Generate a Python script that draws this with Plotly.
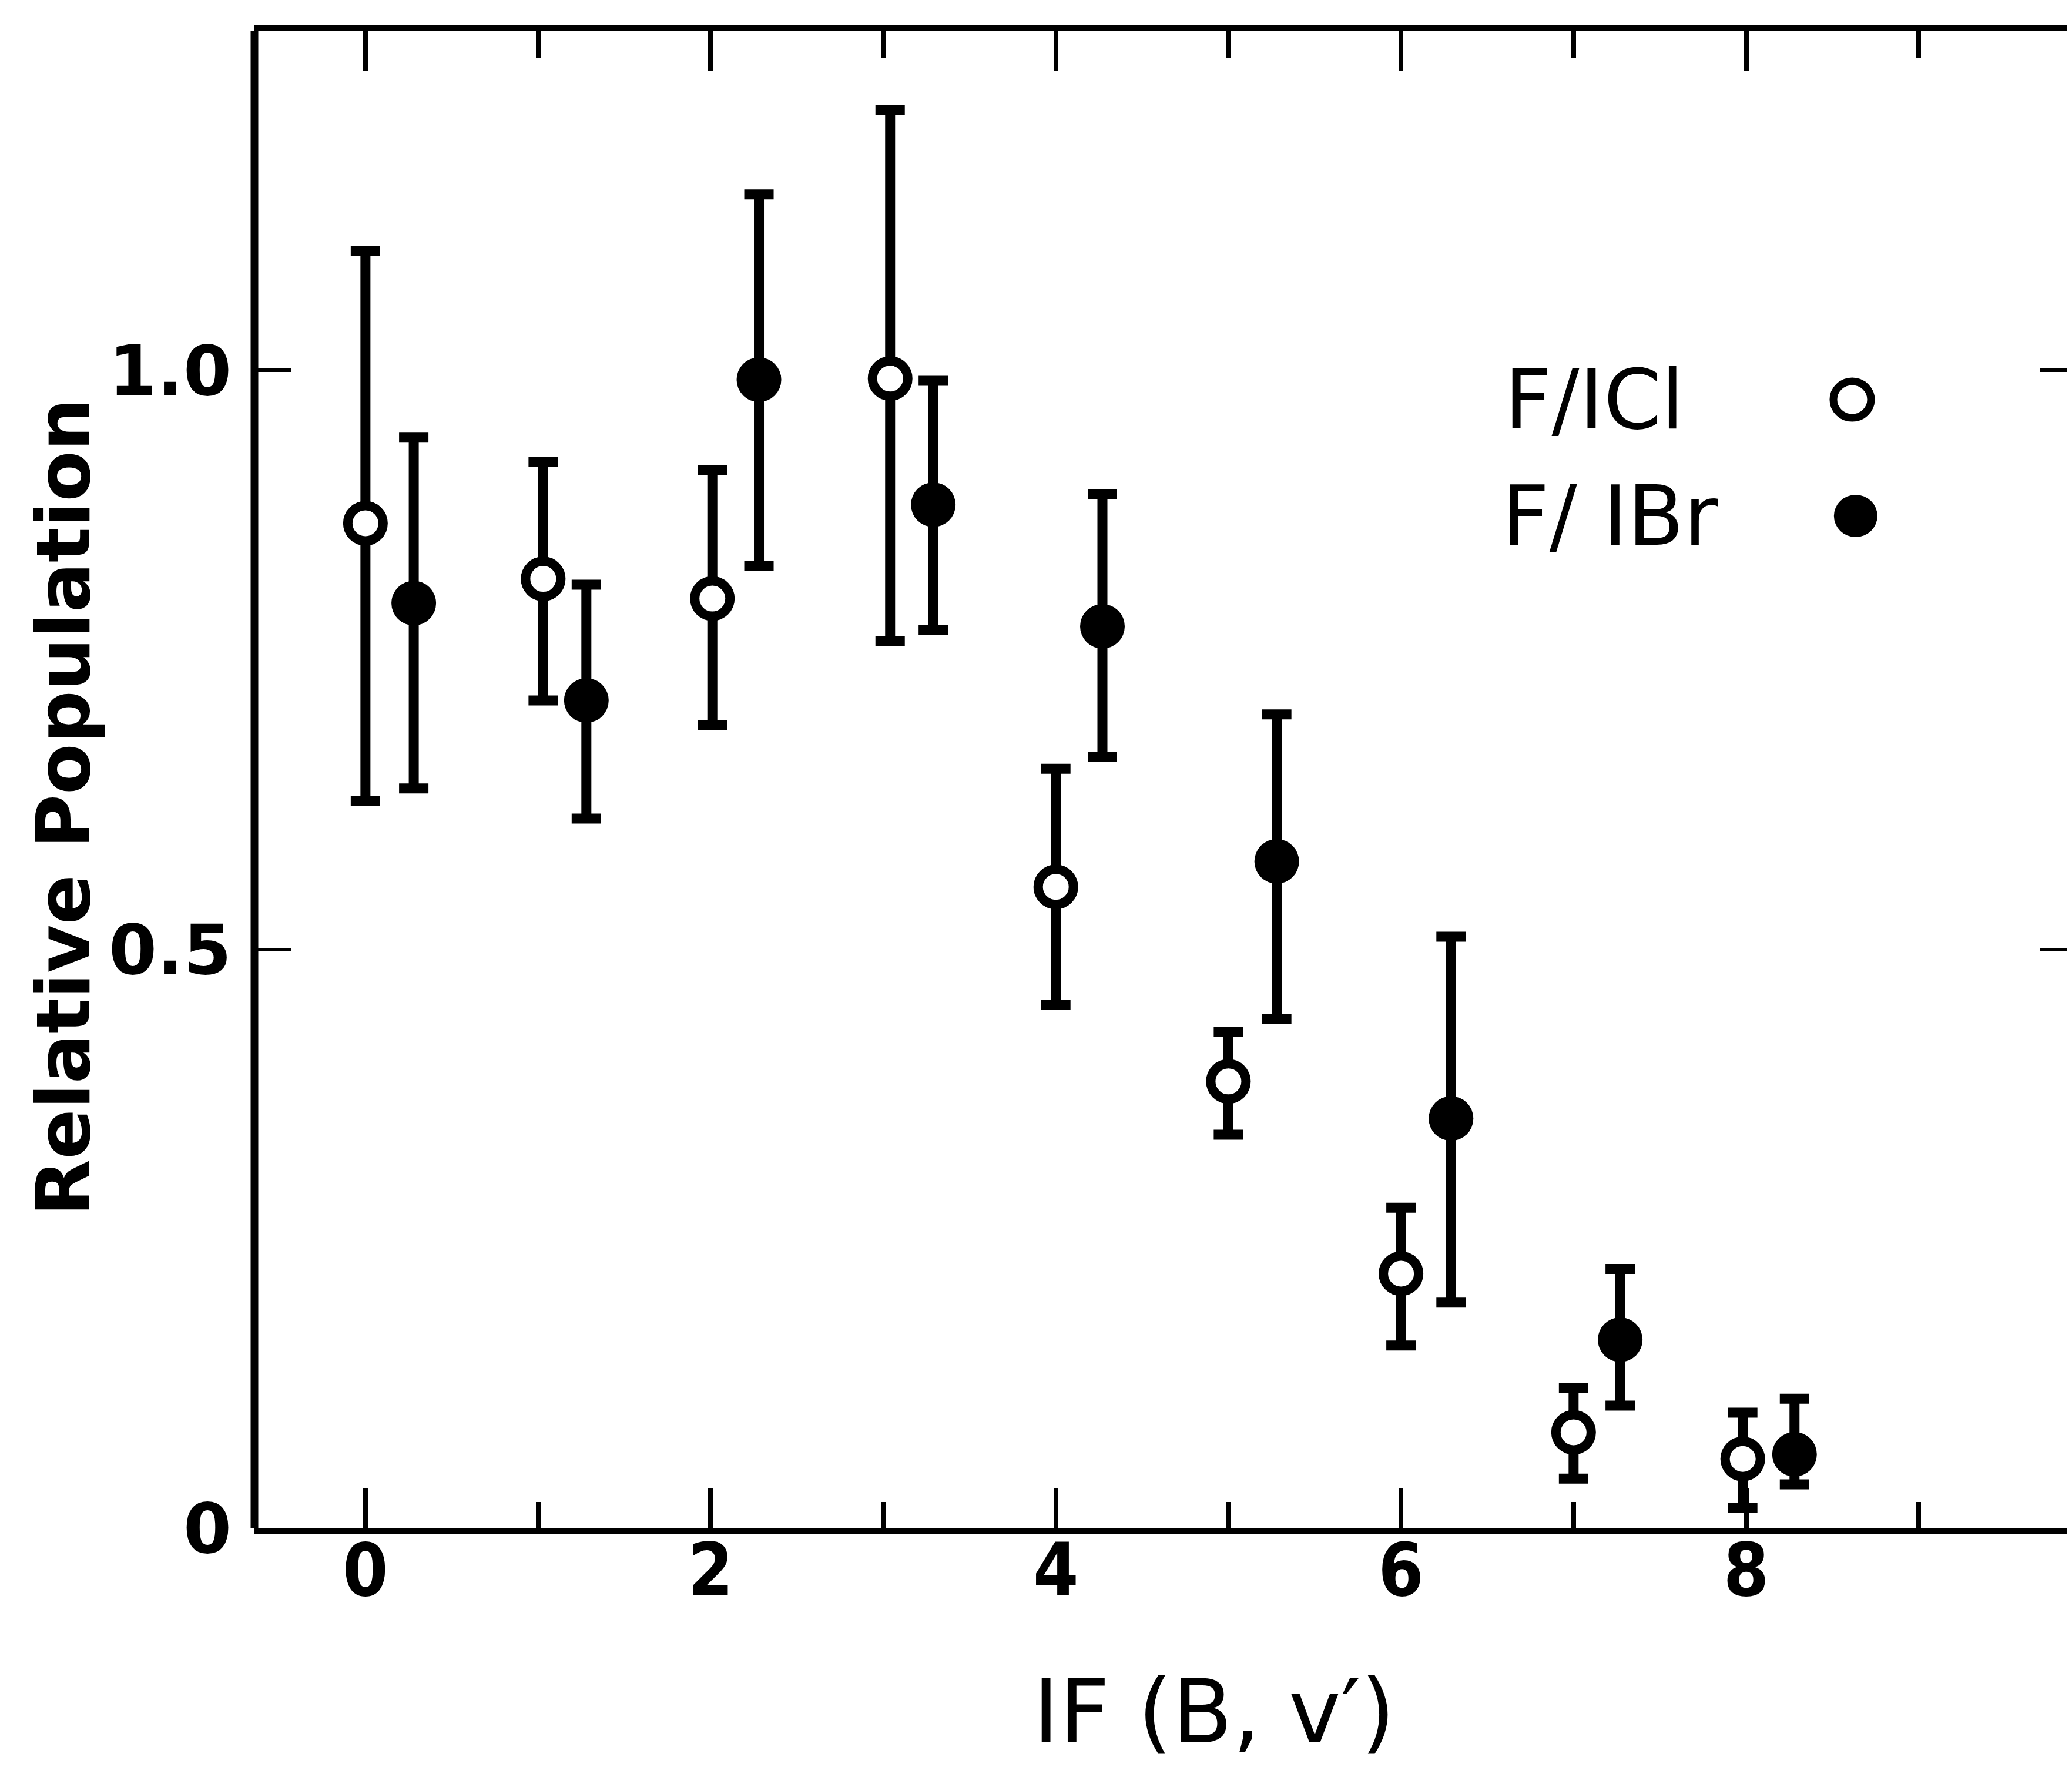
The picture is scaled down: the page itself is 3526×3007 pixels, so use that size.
import plotly.graph_objects as go

# ---- data ----
v_icl = [0.0, 1.03, 2.01, 3.04, 4.0, 5.0, 6.0, 7.0, 7.98]
pop_icl = [0.868, 0.820, 0.803, 0.993, 0.554, 0.386, 0.220, 0.083, 0.060]
hi_icl = [1.103, 0.921, 0.914, 1.225, 0.656, 0.429, 0.277, 0.121, 0.100]
lo_icl = [0.628, 0.715, 0.694, 0.766, 0.452, 0.340, 0.158, 0.043, 0.018]

v_ibr = [0.28, 1.28, 2.28, 3.29, 4.27, 5.28, 6.29, 7.27, 8.28]
pop_ibr = [0.799, 0.715, 0.992, 0.884, 0.779, 0.576, 0.354, 0.163, 0.064]
hi_ibr = [0.942, 0.815, 1.152, 0.991, 0.893, 0.703, 0.511, 0.224, 0.112]
lo_ibr = [0.639, 0.613, 0.831, 0.776, 0.666, 0.440, 0.195, 0.106, 0.038]

x_ticks = [0, 2, 4, 6, 8]
y_ticks = [0, 0.5, 1.0]
y_ticktext = ["0", "0.5", "1.0"]

W, H = 3526, 3007
ML, MT, MB, MR = 425, 45, 414, 0

def err(y, hi, lo):
    return dict(type="data", symmetric=False,
                array=[h - v for h, v in zip(hi, y)],
                arrayminus=[v - l for v, l in zip(y, lo)],
                color="black", thickness=17, width=25)

fig = go.Figure()
fig.add_trace(go.Scatter(
    x=v_ibr, y=pop_ibr, mode="markers", name="F/ IBr",
    error_y=err(pop_ibr, hi_ibr, lo_ibr),
    marker=dict(symbol="circle", size=76, color="black",
                line=dict(color="black", width=0)),
    showlegend=False, cliponaxis=False))
fig.add_trace(go.Scatter(
    x=v_icl, y=pop_icl, mode="markers", name="F/ICl",
    error_y=err(pop_icl, hi_icl, lo_icl),
    marker=dict(symbol="circle", size=60, color="white",
                line=dict(color="black", width=16)),
    showlegend=False, cliponaxis=False))

tick_font_x = dict(family="DejaVu Sans Condensed, DejaVu Sans", size=124,
                   color="black", weight="bold")
tick_font_y = dict(family="DejaVu Sans", size=118, color="black", weight="bold")

fig.update_xaxes(
    range=[-0.643, 9.915], tickvals=x_ticks, ticktext=[str(t) for t in x_ticks],
    ticks="inside", ticklen=68, tickwidth=8, tickcolor="black",
    minor=dict(dtick=1, tick0=0, ticks="inside", ticklen=45, tickwidth=8,
               tickcolor="black"),
    showline=True, linewidth=10, linecolor="black", mirror="ticks",
    showgrid=False, zeroline=False, tickfont=tick_font_x,
    ticklabelstandoff=-45)
fig.update_yaxes(
    range=[0, 1.293], tickvals=y_ticks, ticktext=y_ticktext,
    ticks="inside", ticklen=63, tickwidth=6, tickcolor="black",
    showline=False, mirror="ticks",
    showgrid=False, zeroline=False, tickfont=tick_font_y,
    ticklabelstandoff=38)

shapes = [
    dict(type="line", xref="paper", yref="paper", x0=0, x1=0, y0=0, y1=1,
         line=dict(color="black", width=13)),
]
# legend symbols
shapes.append(dict(type="circle", xref="paper", yref="paper",
                   xsizemode="pixel", ysizemode="pixel",
                   xanchor=0.8768, yanchor=0.7539,
                   x0=-32, x1=32, y0=-31, y1=31,
                   line=dict(color="black", width=13), fillcolor="white"))
shapes.append(dict(type="circle", xref="paper", yref="paper",
                   xsizemode="pixel", ysizemode="pixel",
                   xanchor=0.8787, yanchor=0.6762,
                   x0=-37, x1=37, y0=-36, y1=36,
                   line=dict(color="black", width=0), fillcolor="black"))

annotations = [
    dict(text="F/ICl", xref="paper", yref="paper", x=0.6853, y=0.7539,
         xanchor="left", yanchor="middle", showarrow=False,
         font=dict(family="DejaVu Sans", size=140, color="black")),
    dict(text="F/ IBr", xref="paper", yref="paper", x=0.6840, y=0.6762,
         xanchor="left", yanchor="middle", showarrow=False,
         font=dict(family="DejaVu Sans", size=140, color="black")),
    dict(text="Relative Population", xref="paper", yref="paper",
         x=-0.1045, y=0.4816, xanchor="center", yanchor="middle",
         textangle=-90, showarrow=False,
         font=dict(family="DejaVu Sans", size=126, color="black", weight="bold")),
    dict(text="IF (B, v′)", xref="paper", yref="paper",
         x=0.5266, y=-0.1224, xanchor="center", yanchor="middle",
         showarrow=False,
         font=dict(family="DejaVu Sans", size=150, color="black")),
]

fig.update_layout(
    width=W, height=H, margin=dict(l=ML, r=MR, t=MT, b=MB, pad=0),
    paper_bgcolor="white", plot_bgcolor="white",
    shapes=shapes, annotations=annotations, showlegend=False)

fig.write_html("out.html")
